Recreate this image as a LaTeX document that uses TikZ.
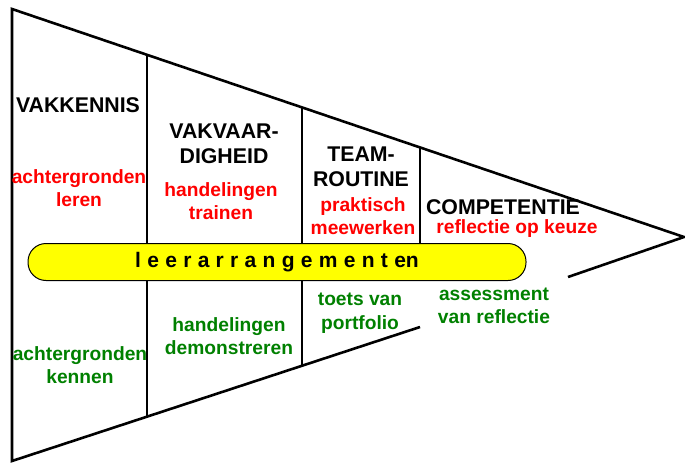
\documentclass[tikz,border=0pt]{standalone}
\usepackage{fontspec}
\setmainfont{Liberation Sans}
\definecolor{tred}{RGB}{255,0,0}
\definecolor{tgreen}{RGB}{0,128,0}
\definecolor{tyellow}{RGB}{255,255,0}
\newcommand{\lsp}{\hspace{6.3pt}}
\begin{document}
\begin{tikzpicture}[x=1pt,y=-1pt,
  edge/.style={line width=2.6pt, line join=miter},
  head/.style={font=\bfseries\fontsize{21.3}{25.5}\selectfont, align=center, inner sep=0pt},
  redtxt/.style={text=tred, font=\bfseries\fontsize{19.2}{23.5}\selectfont, align=center, inner sep=0pt},
  greentxt/.style={text=tgreen, font=\bfseries\fontsize{19.2}{23.5}\selectfont, align=center, inner sep=0pt},
  pill/.style={draw=black, line width=1pt, fill=tyellow, rounded corners=18pt,
    minimum width=498pt, minimum height=37pt, inner sep=0pt,
    font=\bfseries\fontsize{21}{23}\selectfont}]
\useasboundingbox (0,0) rectangle (685,463);
% frame coordinates
\coordinate (TL) at (12,9);
\coordinate (BL) at (12,461);
\coordinate (AP) at (684,237);
\coordinate (B1) at (420,327);
\coordinate (R1) at (568,277);
\coordinate (T147) at (147,54.8);
\coordinate (D147) at (147,416.7);
\coordinate (T302) at (302,107.4);
\coordinate (D302) at (302,365.8);
\coordinate (T420) at (420,147.4);
% outline
\draw[edge] (R1) -- (AP) -- (TL) -- (BL) -- (B1);
\draw[edge] (T147) -- (D147);
\draw[edge] (T302) -- (D302);
% capsule
\node[pill] (cap) at (277,262) {l\lsp e\lsp e\lsp r\lsp a\lsp r\lsp r\lsp a\lsp n\lsp g\lsp e\lsp m\lsp e\lsp n\lsp t\lsp en};
\draw[edge] (T420) -- (T420 |- cap.north);
% headings
\node[head] (vk) at (78,105) {VAKKENNIS};
\node[head] (vv) at (224,144) {VAKVAAR-\\DIGHEID};
\node[head] (tr) at (361,167) {TEAM-\\ROUTINE};
\node[head] (cp) at (503,207) {COMPETENTIE};
% red texts
\node[redtxt] (vkr) at (79,188) {achtergronden\\leren};
\node[redtxt] (vvr) at (221,201) {handelingen\\trainen};
\node[redtxt] (trr) at (363,216) {praktisch\\meewerken};
\node[redtxt] (cpr) at (517,229) {reflectie op keuze};
% green texts
\node[greentxt] (g1) at (80,365) {achtergronden\\kennen};
\node[greentxt] (g2) at (229,336) {handelingen\\demonstreren};
\node[greentxt] (g3) at (360,313) {toets van\\portfolio};
\node[greentxt] (g4) at (494,306) {assessment\\van reflectie};
\end{tikzpicture}
\end{document}
